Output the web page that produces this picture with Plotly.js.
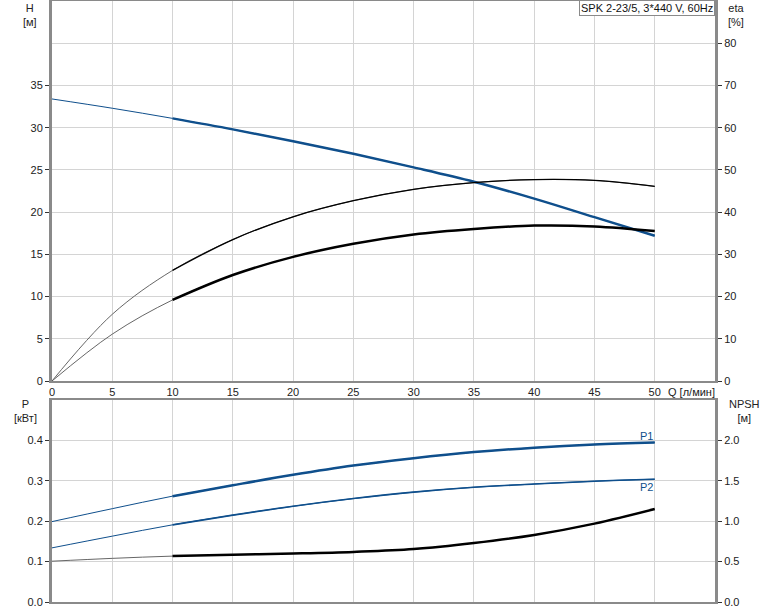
<!DOCTYPE html>
<html>
<head>
<meta charset="utf-8">
<script src="https://cdn.plot.ly/plotly-3.0.1.min.js"></script>
<style>html,body{margin:0;padding:0;background:#fff;}#chart{width:774px;height:611px;}</style>
</head>
<body>
<div id="chart"></div>
<script>
// Flow rate Q [л/мин]
const Q = [0, 5, 10, 15, 20, 25, 30, 35, 40, 45, 50];
// Head H [м]
const H = [33.4, 32.3, 31.1, 29.8, 28.4, 26.9, 25.3, 23.6, 21.6, 19.4, 17.2];
// Efficiencies eta [%]
const etaPump = [0, 15.8, 26.2, 33.5, 38.9, 42.7, 45.4, 47.0, 47.7, 47.5, 46.1];
const etaTotal = [0, 11.1, 19.2, 25.1, 29.4, 32.5, 34.7, 36.0, 36.8, 36.6, 35.5];
// Power P [кВт]
const P1 = [0.199, 0.231, 0.262, 0.289, 0.315, 0.338, 0.356, 0.371, 0.382, 0.390, 0.395];
const P2 = [0.134, 0.163, 0.191, 0.215, 0.237, 0.256, 0.272, 0.284, 0.292, 0.299, 0.304];
// NPSH [м]
const NPSH = [0.505, 0.54, 0.568, 0.585, 0.60, 0.62, 0.655, 0.73, 0.83, 0.97, 1.15];

const xTicks = [0, 5, 10, 15, 20, 25, 30, 35, 40, 45, 50];
const hTicks = [0, 5, 10, 15, 20, 25, 30, 35];
const etaTicks = [0, 10, 20, 30, 40, 50, 60, 70, 80];
const pTicks = [0, 0.1, 0.2, 0.3, 0.4];
const npshTicks = [0, 0.5, 1.0, 1.5, 2.0];
const titleText = "SPK 2-23/5, 3*440 V, 60Hz";

const BLUE = '#0f4f8c';
const FONT = 'Liberation Sans, Arial, sans-serif';

const split = 2; // index where operating range (thick line) starts

function pair(y, xa, ya, color, wThin, wThick, thinColor) {
  return [
    {x: Q, y: y, xaxis: xa, yaxis: ya, mode: 'lines',
     line: {color: thinColor || color, width: wThin, shape: 'spline', smoothing: 1}, hoverinfo: 'skip'},
    {x: Q.slice(split), y: y.slice(split), xaxis: xa, yaxis: ya, mode: 'lines',
     line: {color: color, width: wThick, shape: 'spline', smoothing: 1}, hoverinfo: 'skip'}
  ];
}

const data = [].concat(
  pair(etaPump, 'x', 'y2', '#000', 0.9, 1.3, '#555'),
  pair(etaTotal, 'x', 'y2', '#000', 0.9, 2.5, '#555'),
  pair(H, 'x', 'y', BLUE, 1, 2.5),
  pair(P2, 'x2', 'y3', BLUE, 1, 1.6),
  pair(P1, 'x2', 'y3', BLUE, 1, 2.5),
  pair(NPSH, 'x2', 'y4', '#000', 0.9, 2.5, '#555')
);

const topBottom = (602 - 381) / 601;
const botTop = (602 - 400) / 601;

const tickFont = {family: FONT, size: 11, color: '#222'};
const xBase = {range: [0, 55], tickmode: 'array', tickvals: xTicks, showgrid: true,
  gridcolor: '#d4d4d4', gridwidth: 1, showline: true, linecolor: '#8a8a8a', linewidth: 2,
  mirror: true, zeroline: false, ticks: '', tickfont: tickFont, fixedrange: true};
const yBase = {showgrid: true, gridcolor: '#d4d4d4', gridwidth: 1, showline: true,
  linecolor: '#8a8a8a', linewidth: 3, zeroline: false, ticks: 'outside', ticklen: 4,
  tickcolor: '#333', tickfont: tickFont, tickmode: 'array', fixedrange: true};

const layout = {
  width: 774, height: 611,
  margin: {l: 52, r: 59, t: 1, b: 9},
  paper_bgcolor: '#fff', plot_bgcolor: '#fff',
  showlegend: false,
  font: {family: FONT, size: 11, color: '#222'},
  xaxis: Object.assign({}, xBase, {domain: [0, 1], anchor: 'y'}),
  yaxis: Object.assign({}, yBase, {domain: [topBottom, 1], range: [0, 45], tickvals: hTicks}),
  yaxis2: Object.assign({}, yBase, {overlaying: 'y', side: 'right', range: [0, 90], tickvals: etaTicks, anchor: 'x'}),
  xaxis2: Object.assign({}, xBase, {domain: [0, 1], anchor: 'y3', showticklabels: false}),
  yaxis3: Object.assign({}, yBase, {domain: [0, botTop], range: [0, 0.5], tickvals: pTicks, tickformat: '.1f', anchor: 'x2'}),
  yaxis4: Object.assign({}, yBase, {overlaying: 'y3', side: 'right', range: [0, 2.5], tickvals: npshTicks, tickformat: '.1f', anchor: 'x2'}),
  annotations: [
    {text: titleText, xref: 'paper', yref: 'paper', x: 1, y: 1.0017, xanchor: 'right', yanchor: 'top',
     showarrow: false, bgcolor: '#fff', bordercolor: '#8a8a8a', borderwidth: 1, borderpad: 1,
     font: {family: FONT, size: 11, color: '#111'}},
    {text: 'H<br>[м]', xref: 'paper', yref: 'paper', x: (30 - 52) / 663, y: 1.0017,
     xanchor: 'center', yanchor: 'top', showarrow: false, align: 'center', font: {family: FONT, size: 11, color: '#222'}},
    {text: 'eta<br>[%]', xref: 'paper', yref: 'paper', x: (736 - 52) / 663, y: 1.0017,
     xanchor: 'center', yanchor: 'top', showarrow: false, align: 'center', font: {family: FONT, size: 11, color: '#222'}},
    {text: 'Q [л/мин]', xref: 'paper', yref: 'paper', x: (666 - 52) / 663, y: (602 - 392) / 601,
     xanchor: 'left', yanchor: 'middle', showarrow: false, font: {family: FONT, size: 11, color: '#222'}},
    {text: 'P<br>[кВт]', xref: 'paper', yref: 'paper', x: (25 - 52) / 663, y: (602 - 396) / 601,
     xanchor: 'center', yanchor: 'top', showarrow: false, align: 'center', font: {family: FONT, size: 11, color: '#222'}},
    {text: 'NPSH<br>[м]', xref: 'paper', yref: 'paper', x: (744 - 52) / 663, y: (602 - 396) / 601,
     xanchor: 'center', yanchor: 'top', showarrow: false, align: 'center', font: {family: FONT, size: 11, color: '#222'}},
    {text: 'P1', xref: 'x2', yref: 'y3', x: 49.3, y: 0.41, xanchor: 'center', yanchor: 'middle',
     showarrow: false, font: {family: FONT, size: 11, color: BLUE}},
    {text: 'P2', xref: 'x2', yref: 'y3', x: 49.3, y: 0.284, xanchor: 'center', yanchor: 'middle',
     showarrow: false, font: {family: FONT, size: 11, color: BLUE}}
  ]
};

Plotly.newPlot('chart', data, layout, {staticPlot: true, displayModeBar: false});
</script>
</body>
</html>
